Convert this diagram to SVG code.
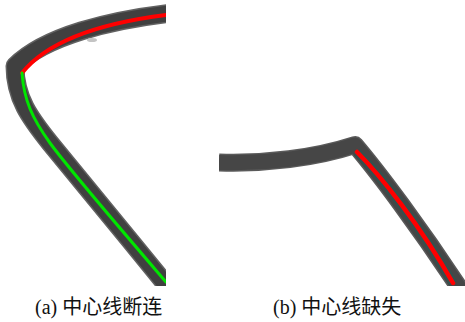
<svg xmlns="http://www.w3.org/2000/svg" width="465" height="322" viewBox="0 0 465 322">
<style>
.edge{fill:none;stroke:#626262;stroke-width:19;stroke-linejoin:round;stroke-linecap:butt}
.band{fill:none;stroke:#404040;stroke-width:16;stroke-linejoin:round;stroke-linecap:butt}
.red{fill:none;stroke:#ff0000;stroke-width:4;stroke-linecap:round}
.green{fill:none;stroke:#00e600;stroke-width:3;stroke-linecap:round}
.cap{font-family:"Liberation Serif","Noto Sans CJK SC",serif;font-size:20px;fill:#111}
</style>
<defs>
<clipPath id="clipA"><rect x="0" y="0" width="166" height="286"/></clipPath>
<clipPath id="clipB"><rect x="219" y="100" width="246" height="186"/></clipPath>
</defs>
<rect width="465" height="322" fill="#fff"/>
<g id="panel-a" clip-path="url(#clipA)">
<path class="edge" d="M172,13 C110,20 45,36 15,66 C15,98 30,118 50,143 S130,240 172,292"/>
<path class="band" d="M172,13 C110,20 45,36 15,66 C15,98 30,118 50,143 S130,240 172,292"/>
<ellipse cx="92" cy="40" rx="5" ry="2" fill="#c4c4c4"/>
<path class="red" d="M166,15 C110,22 50,38 22,73"/>
<path class="green" d="M22,73 C24,100 32,118 50,143 S130,240 166,282"/>
</g>
<g id="panel-b" clip-path="url(#clipB)">
<path class="edge" d="M219,162.5 C265,164 315,158 355,145 C378,172 420,228 462,292" style="stroke:#5a5a5a;stroke-width:18"/>
<path class="band" d="M219,162.5 C265,164 315,158 355,145 C378,172 420,228 462,292" style="stroke:#464646;stroke-width:15"/>
<path d="M357,152 C380,175 420,225 453,283" fill="none" stroke="#33504e" stroke-width="9"/>
<path class="red" d="M357,152 C380,175 420,225 453,283" style="stroke-width:4.5"/>
</g>
<g id="captions">
<text class="cap" x="35" y="314">(a) 中心线断连</text>
<text class="cap" x="273" y="314">(b) 中心线缺失</text>
</g>
</svg>
